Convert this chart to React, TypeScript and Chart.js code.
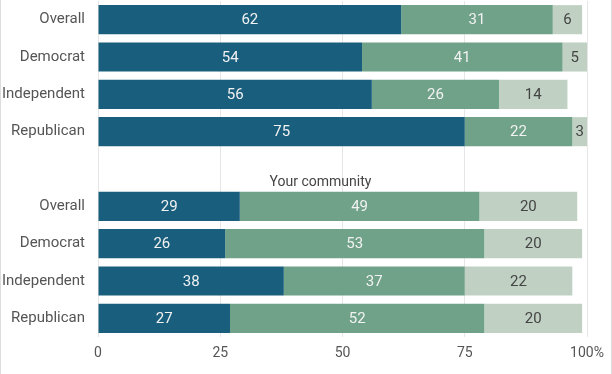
import React, { useEffect, useRef } from "react";
import { Chart, registerables } from "chart.js";

Chart.register(...registerables);

const categories = ["Overall", "Democrat", "Independent", "Republican", "", "Overall", "Democrat", "Independent", "Republican"];
const seriesA = [62, 54, 56, 75, null, 29, 26, 38, 27];
const seriesB = [31, 41, 26, 22, null, 49, 53, 37, 52];
const seriesC = [6, 5, 14, 3, null, 20, 20, 22, 20];
const xTicks = [0, 25, 50, 75, 100];
const groupTitle = "Your community";

const colors = ["#195e7d", "#6fa288", "#c0d1c4"];
const labelColors = ["#f2f2f2", "#f2f2f2", "#444444"];
const FONT = "Roboto, 'Noto Sans', sans-serif";

const labelPlugin = {
  id: "segLabels",
  afterDatasetsDraw(chart: any) {
    const ctx = chart.ctx;
    ctx.save();
    ctx.font = `15px ${FONT}`;
    ctx.textAlign = "center";
    ctx.textBaseline = "middle";
    chart.data.datasets.forEach((ds: any, di: number) => {
      const meta = chart.getDatasetMeta(di);
      meta.data.forEach((el: any, i: number) => {
        const v = ds.data[i];
        if (v === null || v === undefined) return;
        const props = el.getProps(["x", "y", "base"], true);
        ctx.fillStyle = labelColors[di];
        ctx.fillText(String(v), (props.x + props.base) / 2, props.y + 1);
      });
    });
    const yScale = chart.scales.y;
    const xScale = chart.scales.x;
    const yPos = yScale.getPixelForValue(5) - 24;
    ctx.fillStyle = "#444444";
    ctx.font = `14px ${FONT}`;
    ctx.fillText(groupTitle, xScale.getPixelForValue(45.5), yPos);
    ctx.restore();
  },
};

export default function App() {
  const ref = useRef<HTMLCanvasElement>(null);
  useEffect(() => {
    if (!ref.current) return;
    const chart = new Chart(ref.current, {
      type: "bar",
      data: {
        labels: categories,
        datasets: [
          { data: seriesA, backgroundColor: colors[0] },
          { data: seriesB, backgroundColor: colors[1] },
          { data: seriesC, backgroundColor: colors[2] },
        ] as any,
      },
      options: {
        indexAxis: "y",
        animation: false,
        responsive: false,
        maintainAspectRatio: false,
        layout: { padding: { top: 1, right: 24, left: 0, bottom: 0 } },
        datasets: { bar: { categoryPercentage: 1, barPercentage: 0.78 } },
        plugins: { legend: { display: false }, tooltip: { enabled: false }, title: { display: false } },
        scales: {
          x: {
            stacked: true,
            min: 0,
            max: 100,
            afterBuildTicks: (scale: any) => {
              scale.ticks = xTicks.map((v) => ({ value: v }));
            },
            afterFit: (scale: any) => {
              scale.height = 37;
              scale.paddingLeft = 0;
              scale.paddingRight = 0;
            },
            ticks: {
              callback: (v: any) => (v === 100 ? "100%" : String(v)),
              color: "#555555",
              font: { family: FONT, size: 14 },
              padding: 8,
              maxRotation: 0,
            },
            grid: { color: "#e6e6e6", drawTicks: false },
            border: { display: false },
          },
          y: {
            stacked: true,
            afterFit: (scale: any) => {
              scale.width = 97;
              scale.paddingTop = 0;
              scale.paddingBottom = 0;
            },
            ticks: {
              color: "#555555",
              font: { family: FONT, size: 15 },
              padding: 13,
            },
            grid: { display: false, drawTicks: false },
            border: { display: false },
          },
        },
      } as any,
      plugins: [labelPlugin],
    });
    return () => chart.destroy();
  }, []);
  return (
    <div
      style={{
        position: "fixed",
        left: 0,
        top: 0,
        width: 612,
        height: 374,
        boxSizing: "border-box",
        borderLeft: "1px solid #dddddd",
        borderRight: "1px solid #dddddd",
        background: "#ffffff",
      }}
    >
      <canvas ref={ref} width={610} height={374} style={{ display: "block" }} />
    </div>
  );
}
